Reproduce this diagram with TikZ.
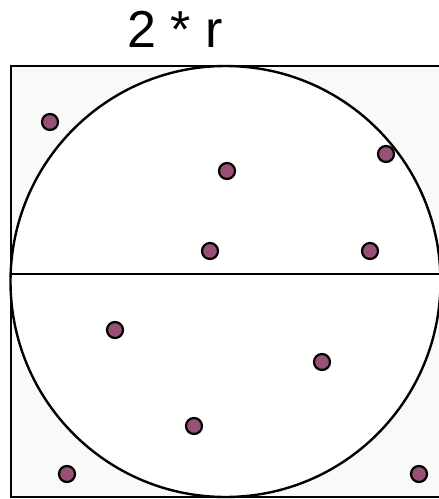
\documentclass[tikz,border=0pt]{standalone}
\usepackage{fontspec}
\setmainfont{Liberation Sans}
\definecolor{dotfill}{RGB}{152,80,118}
\definecolor{sqfill}{RGB}{249,249,249}
\begin{document}
\begin{tikzpicture}[x=1pt,y=-1pt,
  dot/.style={circle,draw=black,line width=2.2pt,fill=dotfill,minimum size=16pt,inner sep=0pt},
  frame/.style={draw=black,line width=2pt,fill=sqfill},
  ring/.style={draw=black,line width=2.4pt,fill=white}]
\useasboundingbox (0,0) rectangle (439,499);
\draw[frame] (10.5,66) rectangle (441,497);
\draw[ring] (225.5,281.5) ellipse (215 and 215.5);
\coordinate (L) at (10.5,274);
\coordinate (R) at (441,274);
\draw[line width=2.2pt] (L) -- (R);
\node[font=\fontsize{52}{60}\selectfont,anchor=base,inner sep=0pt] (t) at (175,47) {2 * r};
\node[dot] (d1) at (50,122) {};
\node[dot] (d2) at (227,171) {};
\node[dot] (d3) at (386,154) {};
\node[dot] (d4) at (210,251) {};
\node[dot] (d5) at (370,251) {};
\node[dot] (d6) at (115,330) {};
\node[dot] (d7) at (322,362) {};
\node[dot] (d8) at (194,426) {};
\node[dot] (d9) at (67,474) {};
\node[dot] (d10) at (419,474) {};
\end{tikzpicture}
\end{document}
